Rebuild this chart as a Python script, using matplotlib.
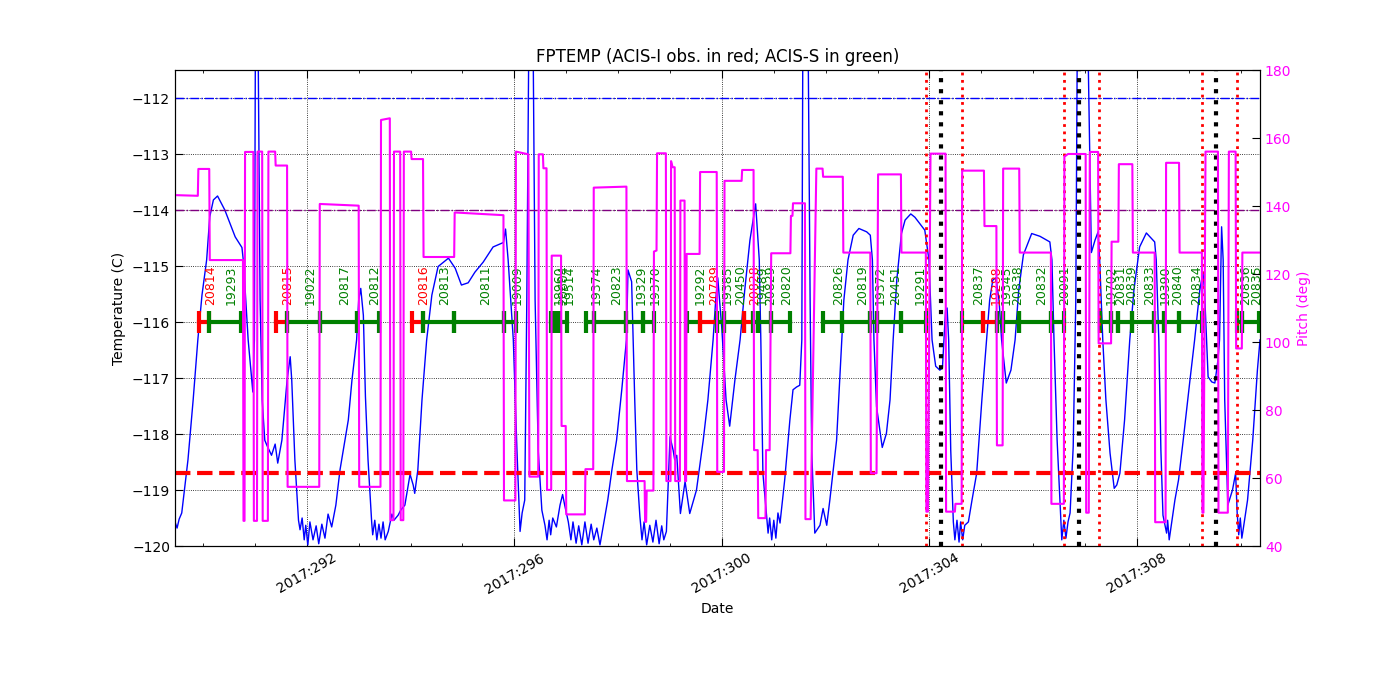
import matplotlib
matplotlib.use("Agg")
import matplotlib.pyplot as plt
from matplotlib.ticker import MultipleLocator, FuncFormatter

# times are 2017 day-of-year
temp_time = [
    289.46, 289.50, 289.54, 289.59, 289.71, 289.81, 289.90, 289.98, 290.07, 290.13,
    290.20, 290.28, 290.42, 290.62, 290.75, 290.78, 290.87, 290.96, 290.99, 291.01,
    291.06, 291.10, 291.14, 291.19, 291.23, 291.32, 291.39, 291.44, 291.52, 291.62,
    291.68, 291.71, 291.77, 291.84, 291.87, 291.91, 291.95, 291.98, 292.02, 292.06,
    292.12, 292.18, 292.23, 292.29, 292.35, 292.41, 292.48, 292.56, 292.64, 292.72,
    292.80, 292.87, 292.96, 293.00, 293.04, 293.09, 293.13, 293.18, 293.25, 293.27,
    293.31, 293.35, 293.39, 293.43, 293.47, 293.51, 293.57, 293.64, 293.68, 293.76,
    293.81, 293.89, 293.99, 294.05, 294.08, 294.14, 294.22, 294.31, 294.41, 294.53,
    294.73, 294.86, 294.98, 295.11, 295.24, 295.40, 295.59, 295.79, 295.83, 295.88,
    295.98, 296.05, 296.11, 296.15, 296.20, 296.24, 296.28, 296.36, 296.40, 296.46,
    296.53, 296.59, 296.63, 296.67, 296.70, 296.74, 296.81, 296.88, 296.93, 296.97,
    297.04, 297.09, 297.13, 297.19, 297.24, 297.30, 297.36, 297.42, 297.48, 297.53,
    297.59, 297.65, 297.71, 297.80, 297.88, 297.97, 298.07, 298.16, 298.19, 298.26,
    298.32, 298.36, 298.42, 298.46, 298.50, 298.55, 298.61, 298.67, 298.73, 298.79,
    298.84, 298.88, 298.93, 299.00, 299.06, 299.09, 299.13, 299.20, 299.29, 299.38,
    299.51, 299.64, 299.73, 299.83, 299.88, 299.92, 300.00, 300.08, 300.15, 300.25,
    300.35, 300.44, 300.54, 300.60, 300.65, 300.72, 300.75, 300.79, 300.89, 300.92,
    300.96, 301.00, 301.04, 301.08, 301.12, 301.21, 301.31, 301.37, 301.44, 301.50,
    301.54, 301.56, 301.66, 301.70, 301.73, 301.79, 301.89, 301.95, 302.02, 302.08,
    302.21, 302.31, 302.35, 302.43, 302.53, 302.64, 302.79, 302.86, 302.90, 302.93,
    302.98, 303.09, 303.17, 303.24, 303.30, 303.37, 303.46, 303.53, 303.64, 303.72,
    303.81, 303.91, 303.99, 304.05, 304.12, 304.20, 304.25, 304.28, 304.31, 304.34,
    304.37, 304.41, 304.46, 304.49, 304.53, 304.57, 304.60, 304.64, 304.68, 304.75,
    304.82, 304.91, 305.01, 305.10, 305.16, 305.22, 305.28, 305.34, 305.39, 305.48,
    305.57, 305.65, 305.72, 305.81, 305.97, 306.13, 306.32, 306.36, 306.40, 306.46,
    306.52, 306.55, 306.59, 306.63, 306.67, 306.71, 306.77, 306.82, 306.85, 307.05,
    307.12, 307.19, 307.25, 307.28, 307.34, 307.40, 307.48, 307.56, 307.61, 307.67,
    307.76, 307.86, 307.94, 308.05, 308.18, 308.34, 308.37, 308.42, 308.46, 308.50,
    308.57, 308.59, 308.62, 308.66, 308.73, 308.80, 308.89, 309.02, 309.11, 309.21,
    309.27, 309.30, 309.37, 309.44, 309.50, 309.56, 309.59, 309.63, 309.66, 309.69,
    309.75, 309.84, 309.90, 309.93, 309.96, 309.99, 310.02, 310.04, 310.13, 310.23,
    310.32, 310.37,
]
fptemp = [
    -119.57, -119.68, -119.52, -119.41, -118.46, -117.39, -116.32, -115.52, -114.89, -114.12,
    -113.82, -113.75, -114.00, -114.48, -114.67, -114.93, -116.32, -117.25, -116.32, -110.80,
    -110.80, -115.61, -117.39, -118.11, -118.20, -118.38, -118.18, -118.52, -118.11, -117.04,
    -116.62, -117.04, -118.46, -119.54, -119.71, -119.50, -119.89, -119.63, -119.98, -119.57,
    -119.89, -119.64, -119.96, -119.61, -119.86, -119.43, -119.66, -119.27, -118.64, -118.20,
    -117.75, -117.04, -116.32, -115.61, -115.40, -115.88, -117.33, -118.46, -119.57, -119.80,
    -119.54, -119.89, -119.61, -119.86, -119.57, -119.89, -119.74, -119.43, -119.54, -119.45,
    -119.36, -119.27, -118.72, -118.91, -119.06, -118.64, -117.39, -116.32, -115.52, -115.01,
    -114.86, -115.04, -115.34, -115.30, -115.11, -114.93, -114.66, -114.58, -114.34, -114.89,
    -116.32, -118.29, -119.74, -119.41, -119.18, -115.61, -110.80, -110.80, -115.61, -118.29,
    -119.36, -119.63, -119.89, -119.54, -119.80, -119.50, -119.66, -119.27, -119.08, -119.27,
    -119.57, -119.89, -119.57, -119.95, -119.64, -119.98, -119.57, -119.95, -119.61, -119.89,
    -119.68, -119.98, -119.66, -119.18, -118.64, -118.11, -117.21, -116.32, -115.07, -115.28,
    -117.39, -118.64, -119.48, -119.89, -119.57, -119.98, -119.63, -119.93, -119.54, -119.96,
    -119.64, -119.89, -119.74, -118.05, -118.29, -118.46, -118.38, -119.42, -118.85, -119.42,
    -119.00, -118.11, -117.39, -116.32, -115.61, -115.21, -116.14, -117.39, -117.86, -117.04,
    -116.32, -115.43, -114.54, -114.18, -113.89, -114.89, -116.32, -118.70, -119.77, -119.50,
    -119.89, -119.54, -119.86, -119.41, -119.59, -118.82, -117.75, -117.21, -117.16, -117.13,
    -116.32, -110.80, -110.80, -115.61, -118.29, -119.77, -119.63, -119.33, -119.63, -119.18,
    -118.11, -116.32, -115.61, -114.89, -114.45, -114.33, -114.39, -114.45, -114.89, -116.32,
    -117.51, -118.24, -117.99, -117.39, -116.32, -115.25, -114.42, -114.18, -114.07, -114.13,
    -114.24, -114.36, -114.89, -116.32, -116.79, -116.86, -116.82, -116.32, -115.79, -115.75,
    -116.32, -118.29, -119.57, -119.89, -119.54, -119.93, -119.57, -119.89, -119.63, -119.57,
    -119.18, -118.70, -117.39, -116.32, -115.61, -115.25, -115.21, -115.61, -116.32, -117.09,
    -116.86, -116.32, -115.43, -114.80, -114.42, -114.47, -114.57, -114.89, -116.32, -118.11,
    -119.30, -119.89, -119.54, -119.86, -119.57, -119.41, -118.23, -115.61, -110.80, -110.80,
    -114.76, -114.54, -114.39, -114.89, -116.32, -117.39, -118.34, -118.97, -118.91, -118.70,
    -117.75, -116.32, -115.43, -114.66, -114.41, -114.57, -114.89, -116.32, -118.29, -119.45,
    -119.77, -119.54, -119.89, -119.63, -119.18, -118.82, -118.11, -117.04, -116.32, -115.43,
    -115.11, -115.43, -116.98, -117.07, -117.09, -116.68, -116.32, -114.30, -114.89, -117.39,
    -119.27, -119.00, -118.70, -119.41, -119.80, -119.50, -119.86, -119.74, -119.18, -118.11,
    -116.86, -116.32,
]

pitch_time = [
    289.46, 289.90, 289.91, 290.12, 290.13, 290.77, 290.78, 290.80, 290.81, 290.97,
    290.98, 291.04, 291.05, 291.14, 291.15, 291.25, 291.26, 291.39, 291.40, 291.62,
    291.63, 292.24, 292.25, 293.00, 293.01, 293.42, 293.43, 293.60, 293.61, 293.67,
    293.68, 293.80, 293.81, 293.86, 293.87, 294.01, 294.02, 294.24, 294.25, 294.84,
    294.85, 295.79, 295.80, 296.02, 296.03, 296.27, 296.29, 296.46, 296.47, 296.55,
    296.56, 296.62, 296.63, 296.71, 296.72, 296.90, 296.91, 296.99, 297.00, 297.36,
    297.37, 297.52, 297.53, 298.16, 298.17, 298.51, 298.52, 298.54, 298.55, 298.68,
    298.69, 298.74, 298.75, 298.92, 298.93, 299.01, 299.02, 299.05, 299.09, 299.10,
    299.19, 299.20, 299.28, 299.29, 299.31, 299.32, 299.57, 299.58, 299.90, 299.91,
    300.04, 300.05, 300.38, 300.39, 300.61, 300.62, 300.69, 300.70, 300.84, 300.85,
    300.92, 300.95, 301.32, 301.33, 301.36, 301.37, 301.60, 301.61, 301.71, 301.82,
    301.94, 301.95, 302.33, 302.34, 302.86, 302.87, 302.98, 303.01, 303.45, 303.46,
    303.93, 303.94, 303.97, 304.02, 304.31, 304.32, 304.49, 304.50, 304.62, 304.63,
    305.05, 305.06, 305.29, 305.30, 305.41, 305.42, 305.73, 305.74, 306.34, 306.35,
    306.59, 306.60, 306.67, 307.01, 307.02, 307.07, 307.09, 307.25, 307.26, 307.50,
    307.51, 307.64, 307.65, 307.91, 307.92, 308.34, 308.35, 308.55, 308.56, 308.81,
    308.82, 309.25, 309.26, 309.28, 309.32, 309.56, 309.57, 309.75, 309.77, 309.90,
    309.91, 310.02, 310.03, 310.37,
]
pitch = [
    143.2, 143.0, 150.9, 150.9, 124.1, 124.1, 47.4, 47.4, 155.9, 155.9,
    47.4, 47.4, 156.0, 156.0, 47.4, 47.4, 156.0, 156.0, 151.9, 151.9,
    57.4, 57.4, 140.6, 140.1, 57.4, 57.4, 165.3, 165.8, 47.6, 47.6,
    156.0, 156.0, 47.6, 47.6, 156.0, 156.0, 153.8, 153.8, 125.0, 125.0,
    138.1, 137.3, 53.4, 53.4, 156.0, 155.2, 60.4, 60.4, 155.2, 155.2,
    151.1, 151.1, 56.5, 56.5, 125.4, 125.4, 75.3, 75.3, 49.3, 49.3,
    62.6, 62.6, 145.4, 145.7, 59.1, 59.1, 47.1, 47.1, 56.3, 56.3,
    126.6, 126.9, 155.5, 155.5, 59.1, 59.1, 153.2, 151.4, 151.4, 59.1,
    59.1, 141.6, 141.6, 59.1, 59.1, 125.9, 125.9, 150.0, 150.0, 61.8,
    61.8, 147.4, 147.4, 150.6, 150.6, 68.2, 68.2, 48.2, 48.2, 68.2,
    68.2, 126.1, 126.1, 137.1, 137.1, 140.8, 140.8, 47.9, 47.9, 151.0,
    151.0, 148.6, 148.6, 126.3, 126.3, 61.4, 61.4, 149.3, 149.3, 126.3,
    126.3, 50.1, 50.1, 155.4, 155.4, 50.1, 50.1, 52.4, 52.4, 150.4,
    150.4, 134.1, 134.1, 69.6, 69.6, 151.0, 151.0, 126.3, 126.3, 52.4,
    52.4, 154.5, 155.3, 155.3, 49.8, 49.8, 155.9, 155.9, 99.6, 99.6,
    129.5, 129.5, 152.3, 152.3, 126.3, 126.3, 47.0, 47.0, 152.7, 152.7,
    126.3, 126.3, 49.8, 49.8, 156.0, 156.0, 49.8, 49.8, 156.0, 156.0,
    98.1, 98.1, 126.3, 126.3,
]

obsids = ['20814', '19293', '20815', '19022', '20817', '20812', '20816', '20813',
          '20811', '19009', '18960', '20604', '19514', '19374', '20823', '19329',
          '19370', '19292', '20789', '19385', '20450', '20828', '19489', '20829',
          '20820', '20826', '20819', '19372', '20451', '19291', '20837', '19288',
          '19345', '20838', '20832', '20091', '19702', '20831', '20839', '20833',
          '19390', '20840', '20834', '20836', '20835']
obs_start = [289.92, 290.12, 291.40, 291.62, 292.25, 292.97, 294.02, 294.24,
             294.84, 295.81, 296.70, 296.78, 296.86, 297.39, 297.53, 298.16,
             298.48, 299.33, 299.58, 299.90, 300.04, 300.42, 300.60, 300.70,
             300.94, 301.95, 302.31, 302.86, 302.98, 303.46, 304.62, 305.03,
             305.30, 305.42, 305.73, 306.35, 307.28, 307.49, 307.64, 307.91,
             308.32, 308.52, 308.81, 309.93, 310.02]
obs_stop = [290.12, 290.73, 291.62, 292.25, 292.97, 293.40, 294.24, 294.84,
            295.81, 296.04, 296.78, 296.86, 297.01, 297.53, 298.16, 298.48,
            298.69, 299.58, 299.90, 300.04, 300.42, 300.60, 300.70, 300.94,
            301.32, 302.31, 302.86, 302.98, 303.46, 303.93, 305.03, 305.30,
            305.42, 305.73, 306.35, 306.59, 307.49, 307.64, 307.91, 308.32,
            308.52, 308.81, 309.25, 310.02, 310.35]
acis_i = ['20814', '20815', '20816', '20789', '20828', '19288']

perigee = [304.22, 306.88, 309.53]
rad_zone = [303.94, 304.63, 306.59, 307.27, 309.26, 309.92]

planning_limit = -112.0
caution_limit = -114.0
acis_i_limit = -118.7
obs_level = -116.0

fig, ax1 = plt.subplots(figsize=(14, 7), dpi=100)
fig.subplots_adjust(left=0.125, right=0.9, bottom=0.22, top=0.9)

ax1.plot(temp_time, fptemp, color='b', lw=1)
ax1.axhline(planning_limit, color='b', ls='-.', lw=1)
ax1.axhline(caution_limit, color='purple', ls='-.', lw=1)
ax1.axhline(acis_i_limit, color='r', ls='--', lw=3)

for name, t0, t1 in zip(obsids, obs_start, obs_stop):
    c = 'red' if name in acis_i else 'green'
    ax1.plot([t0, t1], [obs_level, obs_level], color=c, lw=3,
             marker='|', ms=16, mew=3)
    ax1.text(0.5 * (t0 + t1), obs_level + 0.3, name, color=c, fontsize=9,
             rotation=90, ha='left', va='bottom')

for t in rad_zone:
    ax1.axvline(t, color='r', ls=':', lw=2)
for t in perigee:
    ax1.axvline(t, color='k', ls=':', lw=3)

ax1.set_xlim(289.46, 310.37)
ax1.set_ylim(-120, -111.5)
ax1.xaxis.set_major_locator(MultipleLocator(4))
ax1.xaxis.set_minor_locator(MultipleLocator(1))
ax1.xaxis.set_major_formatter(FuncFormatter(lambda x, pos: f"2017:{int(round(x)):03d}"))
for lab in ax1.get_xticklabels():
    lab.set_rotation(30)
ax1.tick_params(axis='x', which='both', direction='in', top=True, labelsize=10)
ax1.tick_params(axis='x', which='major', length=6)
ax1.tick_params(axis='y', direction='in', length=6, labelsize=10)
ax1.grid(True, color='k', ls=':', lw=0.6)
ax1.set_xlabel('Date', fontsize=10)
ax1.set_ylabel('Temperature (C)', fontsize=10)
ax1.set_title('FPTEMP (ACIS-I obs. in red; ACIS-S in green)', fontsize=12)

ax2 = ax1.twinx()
ax2.plot(pitch_time, pitch, color='magenta', lw=1.5)
ax2.set_ylim(40, 180)
ax2.yaxis.set_major_locator(MultipleLocator(20))
ax2.tick_params(axis='y', direction='in', length=6, labelsize=10, labelcolor='magenta')
ax2.set_ylabel('Pitch (deg)', color='magenta', fontsize=10)

fig.savefig('out.png', dpi=100)
